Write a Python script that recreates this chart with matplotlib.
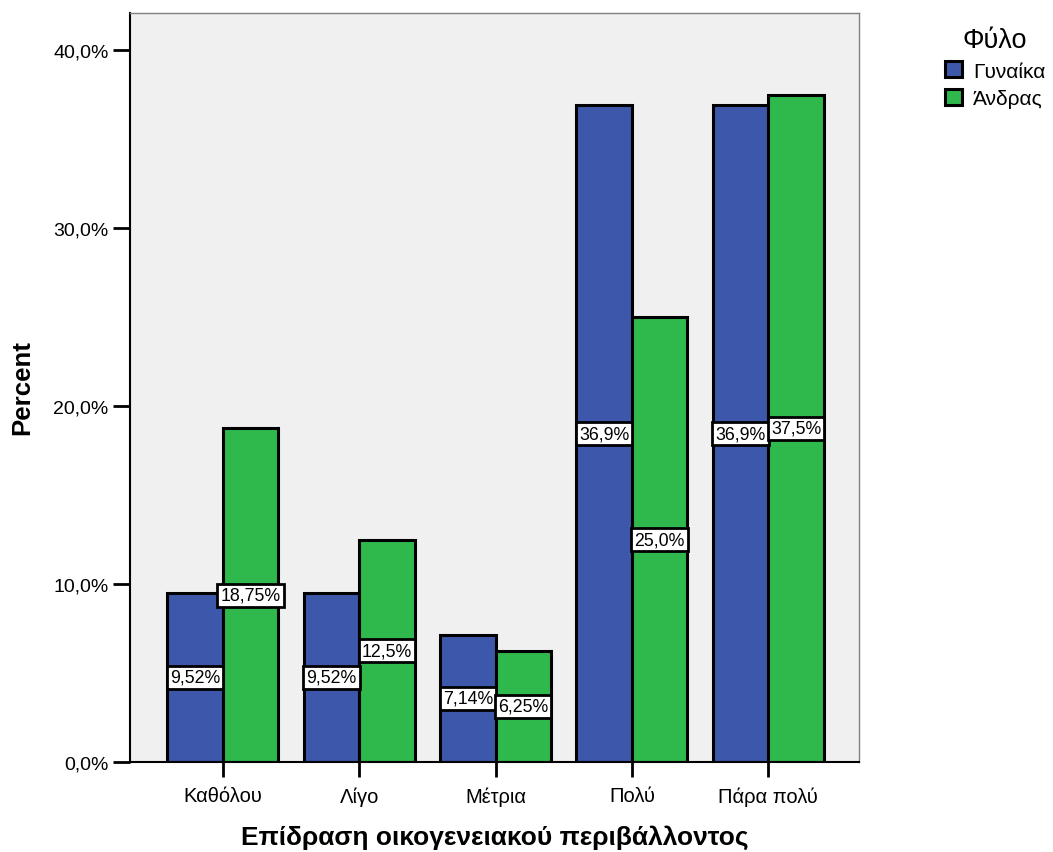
import matplotlib
matplotlib.use("Agg")
import matplotlib.pyplot as plt
import numpy as np

categories = ["Καθόλου", "Λίγο", "Μέτρια", "Πολύ", "Πάρα πολύ"]
series_names = ["Γυναίκα", "Άνδρας"]
female = [9.52, 9.52, 7.14, 36.9, 36.9]
male = [18.75, 12.5, 6.25, 25.0, 37.5]
female_labels = ["9,52%", "9,52%", "7,14%", "36,9%", "36,9%"]
male_labels = ["18,75%", "12,5%", "6,25%", "25,0%", "37,5%"]
yticks = [0, 10, 20, 30, 40]
ytick_labels = ["0,0%", "10,0%", "20,0%", "30,0%", "40,0%"]

plt.rcParams['font.family'] = ['Liberation Sans', 'DejaVu Sans']

W, H = 1053, 853
fig = plt.figure(figsize=(W / 100, H / 100), dpi=100)
ax = fig.add_axes([130 / W, 1 - 763 / H, (859 - 130) / W, (763 - 14) / H])
ax.set_facecolor("#f0f0f0")

blue = "#3d58aa"
green = "#2fb84b"
x = np.arange(len(categories))
bw = 0.407

ax.bar(x - bw / 2, female, bw, color=blue, edgecolor="black", linewidth=2.2,
       label=series_names[0], zorder=2)
ax.bar(x + bw / 2, male, bw, color=green, edgecolor="black", linewidth=2.2,
       label=series_names[1], zorder=2)

box = dict(boxstyle="square,pad=0.17", facecolor="white", edgecolor="black", linewidth=2)
for xi, v, lab in zip(x - bw / 2, female, female_labels):
    ax.text(xi, v / 2, lab, ha="center", va="center", fontsize=12.8, bbox=box, zorder=4)
for xi, v, lab in zip(x + bw / 2, male, male_labels):
    ax.text(xi, v / 2, lab, ha="center", va="center", fontsize=12.8, bbox=box, zorder=4)

ax.set_xlim(-0.68, 4.665)
ax.set_ylim(0, 42.08)
ax.set_xticks(x)
ax.set_xticklabels(categories, fontsize=14.5)
ax.set_yticks(yticks)
ax.set_yticklabels(ytick_labels, fontsize=14)
ax.tick_params(axis="y", length=12, width=2, pad=3.5)
ax.tick_params(axis="x", length=11, width=2, pad=6.5)

for s in ["top", "right"]:
    ax.spines[s].set_color("#808080")
    ax.spines[s].set_linewidth(1)
for s in ["left", "bottom"]:
    ax.spines[s].set_color("black")
    ax.spines[s].set_linewidth(1.5)

fig.text(495 / W, 1 - 845 / H, "Επίδραση οικογενειακού περιβάλλοντος", ha="center",
         va="baseline", fontsize=19, fontweight="bold")
fig.text(22 / W, 1 - 388 / H, "Percent", ha="center", va="center", rotation=90,
         fontsize=18.6, fontweight="bold")

leg = ax.legend(loc="upper left", bbox_to_anchor=(945 / W, 1 - 28 / H),
                bbox_transform=fig.transFigure, frameon=False, fontsize=15,
                title="Φύλο", title_fontsize=19.5, handlelength=0.8, handleheight=0.8,
                handletextpad=0.55, labelspacing=0.4, borderpad=0, borderaxespad=0)
for p in leg.get_patches():
    p.set_linewidth(2.2)

fig.savefig("out.png", dpi=100)
